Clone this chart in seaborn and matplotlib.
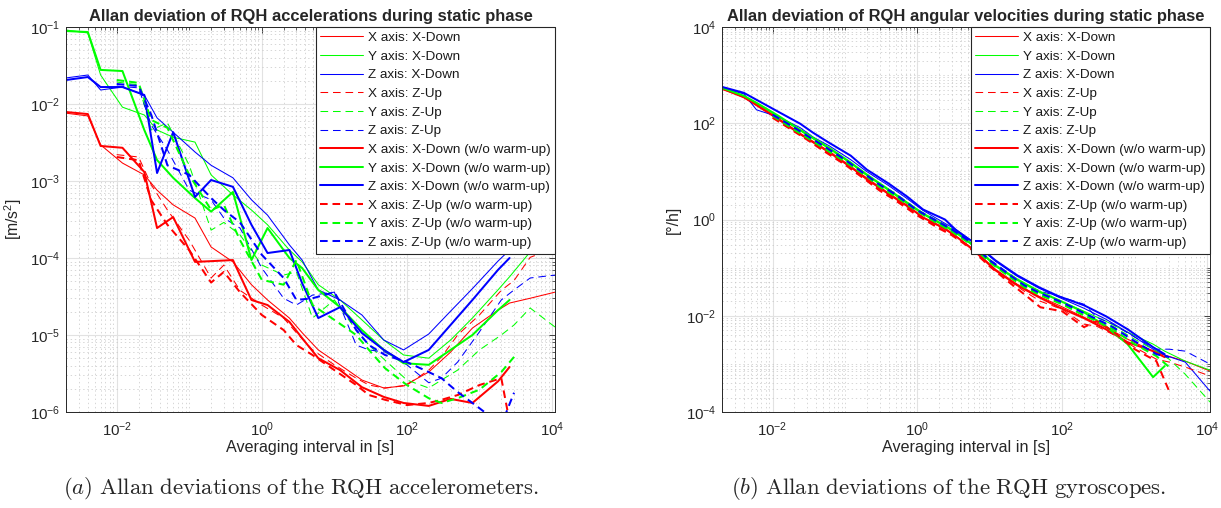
import numpy as np
import matplotlib
matplotlib.use("Agg")
import matplotlib.pyplot as plt
import matplotlib.ticker as mticker
import seaborn as sns

sns.set_style("white")
plt.rcParams["font.family"] = ["Liberation Sans", "DejaVu Sans"]
plt.rcParams["mathtext.fontset"] = "custom"
plt.rcParams["mathtext.rm"] = "Liberation Sans"
plt.rcParams["mathtext.it"] = "Liberation Sans:italic"
plt.rcParams["mathtext.bf"] = "Liberation Sans:bold"
plt.rcParams["lines.scale_dashes"] = False

# ---------------- averaging intervals [s] ----------------
tau_xdown = [0.002, 0.004, 0.006, 0.012, 0.024, 0.036, 0.06, 0.12, 0.2, 0.4, 0.72, 1.2,
             2.4, 3.6, 6, 12, 24, 48, 90, 200, 400, 800, 1800, 2600, 5000, 11000]
tau_zup = [0.01, 0.02, 0.03, 0.05, 0.1, 0.2, 0.3, 0.5, 1, 2, 3, 5, 10, 20, 30, 50,
           100, 200, 300, 500, 1000, 2000, 3000, 5000, 11000]

# tick positions
x_ticks = [1e-2, 1e0, 1e2, 1e4]
acc_ticks = [1e-6, 1e-5, 1e-4, 1e-3, 1e-2, 1e-1]
gyr_ticks = [1e-4, 1e-2, 1e0, 1e2, 1e4]

# ---------------- accelerometers [m/s^2] ----------------
acc_x_xdown = [7.6e-3, 7.0e-3, 2.95e-3, 1.71e-3, 1.2e-3, 7.6e-4, 4.9e-4, 3.3e-4, 1.39e-4, 8.9e-5,
               4.5e-5, 2.85e-5, 1.66e-5, 1.07e-5, 6.4e-6, 4.1e-6, 2.6e-6, 2.05e-6, 2.18e-6, 3.3e-6,
               6.0e-6, 1.23e-5, 2.1e-5, 2.6e-5, 3.0e-5, 3.6e-5]
acc_y_xdown = [0.0914, 0.0836, 0.0238, 9.1e-3, 7.2e-3, 4.6e-3, 3.7e-3, 3.2e-3, 1.2e-3, 6.6e-4,
               4.2e-4, 2.7e-4, 1.27e-4, 8.9e-5, 4.5e-5, 2.85e-5, 1.57e-5, 8.6e-6, 5.5e-6, 5.0e-6,
               8.6e-6, 1.66e-5, 3.85e-5, 5.7e-5, 1.2e-4, 3.1e-4]
acc_z_xdown = [0.0218, 0.0238, 0.0152, 0.0166, 0.0131, 6.6e-3, 4.3e-3, 2.38e-3, 1.6e-3, 1.1e-3,
               5.7e-4, 3.6e-4, 1.48e-4, 9.4e-5, 3.85e-5, 2.85e-5, 1.82e-5, 8.6e-6, 6.4e-6, 1.03e-5,
               2.04e-5, 4.0e-5, 9.1e-5, 1.27e-4, 2.45e-4, 5.4e-4]
acc_x_zup = [2.2e-3, 2.05e-3, 8.9e-4, 4.2e-4, 1.7e-4, 5.5e-5, 8.1e-5, 3.8e-5, 2.45e-5, 1.66e-5,
             1.07e-5, 6.4e-6, 4.1e-6, 2.75e-6, 2.24e-6, 2.04e-6, 2.24e-6, 3.5e-6, 5.2e-6, 1.0e-5,
             1.82e-5, 3.8e-5, 5.1e-5, 1.02e-4, 1.35e-4]
acc_y_zup = [0.0193, 0.0177, 4.6e-3, 5.7e-3, 1.6e-3, 2.3e-4, 2.9e-4, 2.0e-4, 8.1e-5, 6.0e-5,
             6.6e-5, 1.66e-5, 2.85e-5, 1.16e-5, 7.4e-6, 4.7e-6, 2.6e-6, 2.05e-6, 2.6e-6, 3.5e-6,
             6.4e-6, 1.0e-5, 1.35e-5, 2.24e-5, 1.27e-5]
acc_z_zup = [0.0171, 0.0162, 5.3e-3, 2.53e-3, 7.6e-4, 5.7e-4, 3.3e-4, 2.45e-4, 7.4e-5, 3.0e-5,
             2.45e-5, 3.3e-5, 3.6e-5, 7.4e-6, 6.4e-6, 6.0e-6, 4.1e-6, 2.4e-6, 2.75e-6, 4.45e-6,
             1.1e-5, 2.85e-5, 3.85e-5, 5.5e-5, 6.0e-5]
acc_x_xdown_nw = [7.87e-3, 7.4e-3, 2.85e-3, 2.7e-3, 1.31e-3, 2.45e-4, 3.4e-4, 8.9e-5, 9.1e-5, 9.4e-5,
                  2.85e-5, 2.45e-5, 1.48e-5, 9.1e-6, 5.0e-6, 3.5e-6, 2.1e-6, 1.57e-6, 1.31e-6, 1.2e-6,
                  1.48e-6, 1.31e-6, 2.5e-6, 3.84e-6]
acc_y_xdown_nw = [0.0887, 0.086, 0.0277, 0.0268, 4.6e-3, 1.87e-3, 1.1e-3, 6.0e-4, 4.0e-4, 7.2e-4,
                  9.4e-5, 2.45e-4, 1.0e-4, 7.4e-5, 3.85e-5, 2.3e-5, 1.16e-5, 6.4e-6, 4.3e-6, 4.1e-6,
                  6.4e-6, 1.0e-5, 2.1e-5, 2.85e-5]
acc_z_xdown_nw = [0.0205, 0.0224, 0.0166, 0.0166, 0.0131, 1.27e-3, 4.3e-3, 6.2e-4, 1.03e-3, 8.4e-4,
                  2.7e-4, 1.16e-4, 1.27e-4, 4.7e-5, 1.66e-5, 2.3e-5, 1.06e-5, 6.4e-6, 4.45e-6, 6.4e-6,
                  1.35e-5, 2.85e-5, 7.0e-5, 1.0e-4]
acc_x_zup_nw = [2.05e-3, 1.86e-3, 5.6e-4, 2.7e-4, 1.26e-4, 4.8e-5, 6.6e-5, 3.6e-5, 1.82e-5, 1.16e-5,
                7.4e-6, 5.5e-6, 3.5e-6, 2.24e-6, 1.66e-6, 1.44e-6, 1.23e-6, 1.31e-6, 1.44e-6, 1.66e-6,
                2.24e-6, 2.75e-6, 3.7e-7]
acc_y_zup_nw = [0.0205, 0.0188, 6.2e-3, 4.9e-3, 1.2e-3, 4.2e-4, 4.9e-4, 1.71e-4, 5.2e-5, 4.5e-5,
                9.4e-5, 2.45e-5, 1.57e-5, 1.0e-5, 6.4e-6, 3.7e-6, 2.24e-6, 1.51e-6, 1.31e-6, 1.51e-6,
                1.95e-6, 3.3e-6, 5.2e-6]
acc_z_zup_nw = [0.0182, 0.0171, 7.2e-3, 1.6e-3, 1.2e-3, 6.0e-4, 4.2e-4, 2.9e-4, 1.1e-4, 5.5e-5,
                2.85e-5, 3.0e-5, 3.6e-5, 1.16e-5, 7.4e-6, 5.5e-6, 4.45e-6, 3.3e-6, 2.75e-6, 1.82e-6,
                1.12e-6, 6.8e-7, 1.78e-6]

# ---------------- gyroscopes [deg/h] ----------------
gyr_x_xdown = [519, 338, 231, 118, 58, 39.5, 24.5, 12.0, 6.7, 3.3, 1.86, 1.10, 0.62, 0.42, 0.239,
               0.092, 0.045, 0.0253, 0.0165, 9.3e-3, 5.8e-3, 3.26e-3, 1.84e-3, 1.52e-3, 1.14e-3, 7.1e-4]
gyr_y_xdown = [545, 371, 254, 136, 70, 47.7, 29.6, 14.5, 8.2, 4.0, 2.15, 1.27, 0.716, 0.49, 0.276,
               0.106, 0.0544, 0.0307, 0.021, 0.0124, 7.7e-3, 4.55e-3, 2.57e-3, 1.84e-3, 1.14e-3, 7.4e-4]
gyr_z_xdown = [545, 408, 190, 136, 81, 52, 34.2, 17.5, 9.9, 5.07, 2.72, 1.54, 0.83, 0.59, 0.334,
               0.135, 0.0659, 0.0372, 0.0242, 0.0143, 8.5e-3, 4.55e-3, 2.02e-3, 1.52e-3, 1.09e-3, 2.72e-4]
gyr_x_zup = [136, 70, 47.7, 28.2, 14.5, 6.7, 4.2, 2.6, 1.27, 0.68, 0.49, 0.289, 0.111, 0.0495,
             0.0322, 0.02, 0.0136, 6.7e-3, 6.05e-3, 4.1e-3, 2.22e-3, 1.25e-3, 1.09e-3, 8.6e-4, 5.6e-4]
gyr_y_zup = [150, 77, 52, 32.6, 16.7, 8.2, 5.07, 3.14, 1.54, 0.83, 0.59, 0.35, 0.135, 0.0628,
             0.0409, 0.0279, 0.0182, 9.8e-3, 8.5e-3, 6.05e-3, 3.26e-3, 1.84e-3, 1.25e-3, 6.1e-4, 1.61e-4]
gyr_z_zup = [157, 85, 58, 35.8, 18.4, 8.6, 5.6, 3.46, 1.61, 0.91, 0.65, 0.385, 0.148, 0.069,
             0.045, 0.0322, 0.0242, 0.0173, 9.3e-3, 6.7e-3, 3.6e-3, 2.02e-3, 2.02e-3, 1.84e-3, 9.9e-4]
gyr_x_xdown_nw = [519, 354, 242, 124, 60.6, 41.4, 25.7, 12.5, 7.1, 3.46, 1.95, 1.10, 0.65, 0.42,
                  0.228, 0.0877, 0.0429, 0.0242, 0.015, 8.9e-3, 5.25e-3, 2.82e-3, 1.84e-3, 1.38e-3]
gyr_y_xdown_nw = [545, 371, 266, 143, 73, 50, 31, 15.2, 8.6, 4.2, 2.25, 1.33, 0.75, 0.513, 0.289,
                  0.111, 0.057, 0.0322, 0.021, 0.0118, 6.05e-3, 2.57e-3, 5.3e-4, 9.0e-4]
gyr_z_xdown_nw = [570, 429, 307, 173, 98, 64, 39.5, 21.2, 10.9, 5.6, 3.0, 1.61, 1.0, 0.56, 0.334,
                  0.141, 0.069, 0.039, 0.0253, 0.0165, 9.8e-3, 5.25e-3, 2.22e-3, 1.59e-3]
gyr_x_zup_nw = [130, 67, 45.5, 26.9, 13.8, 6.4, 4.0, 2.48, 1.21, 0.65, 0.47, 0.276, 0.106, 0.045,
                0.0279, 0.015, 0.0124, 5.8e-3, 7.7e-3, 4.8e-3, 2.02e-3, 1.14e-3, 2.72e-4]
gyr_y_zup_nw = [143, 73, 50, 31, 15.9, 7.8, 4.8, 3.0, 1.47, 0.79, 0.56, 0.334, 0.128, 0.0598,
                0.039, 0.0266, 0.0173, 0.0102, 7.7e-3, 5.25e-3, 2.57e-3, 1.45e-3, 8.6e-4]
gyr_z_zup_nw = [150, 81, 55, 34.2, 17.5, 8.2, 5.3, 3.3, 1.54, 0.87, 0.62, 0.367, 0.141, 0.0659,
                0.0429, 0.0293, 0.019, 0.0113, 8.5e-3, 5.8e-3, 2.96e-3, 1.59e-3, 1.38e-3]

labels = ["X axis: X-Down", "Y axis: X-Down", "Z axis: X-Down",
          "X axis: Z-Up", "Y axis: Z-Up", "Z axis: Z-Up",
          "X axis: X-Down (w/o warm-up)", "Y axis: X-Down (w/o warm-up)", "Z axis: X-Down (w/o warm-up)",
          "X axis: Z-Up (w/o warm-up)", "Y axis: Z-Up (w/o warm-up)", "Z axis: Z-Up (w/o warm-up)"]
colors = ["#ff0000", "#00ff00", "#0000ff"]

acc_series = [acc_x_xdown, acc_y_xdown, acc_z_xdown, acc_x_zup, acc_y_zup, acc_z_zup,
              acc_x_xdown_nw, acc_y_xdown_nw, acc_z_xdown_nw, acc_x_zup_nw, acc_y_zup_nw, acc_z_zup_nw]
gyr_series = [gyr_x_xdown, gyr_y_xdown, gyr_z_xdown, gyr_x_zup, gyr_y_zup, gyr_z_zup,
              gyr_x_xdown_nw, gyr_y_xdown_nw, gyr_z_xdown_nw, gyr_x_zup_nw, gyr_y_zup_nw, gyr_z_zup_nw]

DASH = (0, (5.5, 3.5))
GRAY = "#262626"

fig = plt.figure(figsize=(12.21, 5.08), dpi=100)
axL = fig.add_axes([66 / 1221, 1 - 412 / 508, 489 / 1221, 385 / 508])
axR = fig.add_axes([722 / 1221, 1 - 412 / 508, 488 / 1221, 385 / 508])


def draw(ax, series, ylim, yticks, title, ylabel):
    ax.set_xscale("log")
    ax.set_yscale("log")
    for i, vals in enumerate(series):
        dashed = (i // 3) % 2 == 1
        thick = i >= 6
        tau = tau_zup if dashed else tau_xdown
        sns.lineplot(x=tau[:len(vals)], y=vals, ax=ax, color=colors[i % 3],
                     linewidth=1.45 if thick else 0.75,
                     linestyle=DASH if dashed else "-",
                     label=labels[i], estimator=None, sort=False, legend=False)
    ax.set_xlim(2e-3, 1.1e4)
    ax.set_ylim(*ylim)
    ax.xaxis.set_major_locator(mticker.FixedLocator(x_ticks))
    ax.yaxis.set_major_locator(mticker.FixedLocator(yticks))
    ax.xaxis.set_minor_locator(mticker.LogLocator(base=10, subs=np.arange(1, 10), numticks=100))
    ax.yaxis.set_minor_locator(mticker.LogLocator(base=10, subs=np.arange(1, 10), numticks=100))
    for a in (ax.xaxis, ax.yaxis):
        a.set_major_formatter(mticker.LogFormatterSciNotation(base=10))
        a.set_minor_formatter(mticker.NullFormatter())
    ax.grid(True, which="major", color="#e2e2e2", lw=0.8, ls="-")
    ax.grid(True, which="minor", color="#c6c6c6", lw=0.5, ls=(0, (1, 2)))
    ax.set_axisbelow(True)
    ax.tick_params(which="both", direction="in", top=True, right=True, colors=GRAY,
                   labelsize=10.8)
    ax.tick_params(which="major", length=4, width=0.6)
    ax.tick_params(axis="x", which="major", pad=6)
    ax.tick_params(axis="y", which="major", pad=4)
    ax.tick_params(which="minor", length=2, width=0.5)
    for s in ax.spines.values():
        s.set_color(GRAY)
        s.set_linewidth(0.7)
    ax.set_title(title, fontsize=11.9, fontweight="bold", pad=4)
    ax.set_xlabel("Averaging interval in [s]", fontsize=11.6, color=GRAY, labelpad=1)
    ax.set_ylabel(ylabel, fontsize=11.3, color=GRAY, labelpad=4)
    leg = ax.legend(loc="upper right", borderaxespad=0, fancybox=False, framealpha=1,
                    edgecolor=GRAY, fontsize=9.7, handlelength=3.2, handletextpad=0.3,
                    labelspacing=0.46, borderpad=0.35)
    leg.get_frame().set_linewidth(0.8)
    for t in leg.get_texts():
        t.set_color("#1a1a1a")


draw(axL, acc_series, (1e-6, 1e-1), acc_ticks,
     "Allan deviation of RQH accelerations during static phase", "[m/s$^2$]")
draw(axR, gyr_series, (1e-4, 1e4), gyr_ticks,
     "Allan deviation of RQH angular velocities during static phase", "[°/h]")

fig.text(301 / 1221, 1 - 488 / 508,
         r"$\mathit{(a)}\ \mathrm{Allan\ deviations\ of\ the\ RQH\ accelerometers.}$",
         ha="center", va="center", fontsize=16.4, math_fontfamily="cm")
fig.text(949 / 1221, 1 - 488 / 508,
         r"$\mathit{(b)}\ \mathrm{Allan\ deviations\ of\ the\ RQH\ gyroscopes.}$",
         ha="center", va="center", fontsize=16.4, math_fontfamily="cm")

fig.savefig("out.png", dpi=100)
